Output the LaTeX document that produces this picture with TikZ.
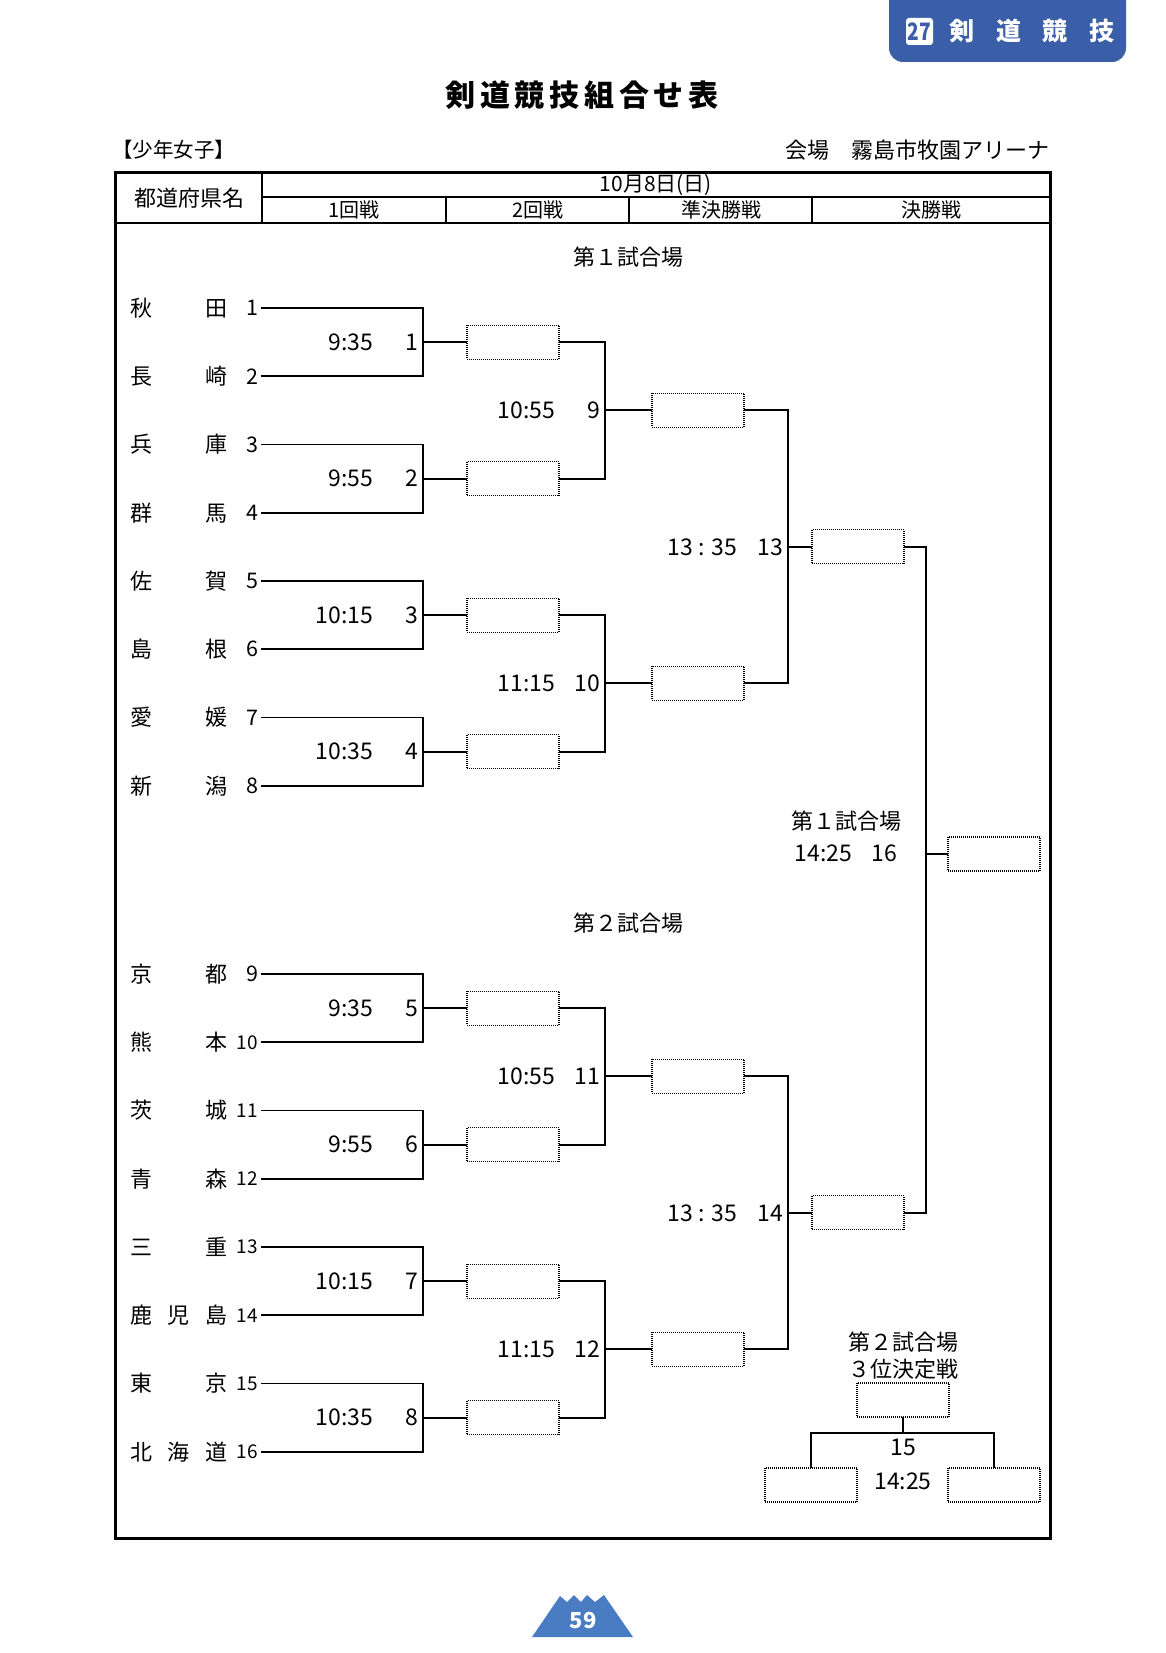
\documentclass[tikz,border=0pt]{standalone}
\usepackage{fontspec}
\setmainfont{Noto Sans CJK JP}
\usetikzlibrary{calc}
\definecolor{tabblue}{HTML}{3B5EA8}
\definecolor{pageblue}{HTML}{4A7CC4}
\begin{document}
\begin{tikzpicture}[x=1pt,y=-1pt,
  every node/.style={inner sep=0pt, outer sep=0pt},
  line/.style={line width=1.9pt},
  frameline/.style={line width=3pt},
  wbox/.style={draw, line width=1.2pt, dash pattern=on 1pt off 1pt, minimum width=92pt, minimum height=34pt},
  tname/.style={font=\fontsize{22}{24}\selectfont, anchor=west},
  tnum/.style={font=\fontsize{21.5}{23}\selectfont, anchor=east},
  tnumb/.style={font=\fontsize{19}{21}\selectfont, anchor=east},
  time/.style={font=\fontsize{23}{25}\selectfont, anchor=east},
  lbl/.style={font=\fontsize{22}{24}\selectfont},
  hdr/.style={font=\fontsize{20}{22}\selectfont},
]
\useasboundingbox (0,0) rectangle (1165,1653);
\fill[white] (0,0) rectangle (1165,1653);

% header tab
\fill[tabblue, rounded corners=14pt] (889,-30) rectangle (1126,62);
\node[fill=white, rounded corners=3pt, minimum width=27pt, minimum height=27pt,
      text=tabblue, font=\fontsize{24}{26}\selectfont\bfseries] (tabnum) at (919.5,31.5) {\scalebox{0.8}[1]{27}};
\node[text=white, font=\fontsize{25}{27}\selectfont\bfseries] (tabtxt) at (1032,31)
  {剣\hspace{21.7pt}道\hspace{21.7pt}競\hspace{21.7pt}技};

% title
\node[font=\fontsize{30}{32}\selectfont\bfseries] (title) at (582,95)
  {剣\hspace{4.7pt}道\hspace{4.7pt}競\hspace{4.7pt}技\hspace{4.7pt}組\hspace{4.7pt}合\hspace{4.7pt}せ\hspace{4.7pt}表};
\node[font=\fontsize{20.5}{22}\selectfont, anchor=west] (cat) at (112,150) {【少年女子】};
\node[font=\fontsize{22}{24}\selectfont, anchor=east] (venue) at (1049,150) {会場　霧島市牧園アリーナ};

% table frame
\draw[frameline] (115,173) rectangle (1050,1538);
\draw[line] (262,173) -- (262,223);
\draw[line] (115,223) -- (1050,223);
\draw[line] (262,197) -- (1050,197);
\foreach \xx in {446,629,812} \draw[line] (\xx,197) -- (\xx,223);
\node[lbl] (hpref) at (189,198) {都道府県名};
\node[font=\fontsize{21}{23}\selectfont] (hdate) at (656,185) {10月8日(日)};
\node[hdr] (hr1) at (354,210) {1回戦};
\node[hdr] (hr2) at (538,210) {2回戦};
\node[hdr] (hr3) at (721,210) {準決勝戦};
\node[hdr] (hr4) at (931,210) {決勝戦};

\node[lbl] (court1) at (628,257) {第１試合場};
\node[lbl] (court2) at (628,923) {第２試合場};

% column x coordinates
\coordinate (r1) at (423,0);
\coordinate (r2) at (605,0);
\coordinate (r3) at (788,0);
\coordinate (r4) at (926,0);

% teams
\foreach \i/\nm in {1/{秋\hfill 田},2/{長\hfill 崎},3/{兵\hfill 庫},4/{群\hfill 馬},
                    5/{佐\hfill 賀},6/{島\hfill 根},7/{愛\hfill 媛},8/{新\hfill 潟},
                    9/{京\hfill 都},10/{熊\hfill 本},11/{茨\hfill 城},12/{青\hfill 森},
                    13/{三\hfill 重},14/{鹿\hfill 児\hfill 島},15/{東\hfill 京},16/{北\hfill 海\hfill 道}}{
  \pgfmathsetmacro\ty{ifthenelse(\i<9, 308+(\i-1)*68.25, 974+(\i-9)*68.25)}
  \node[tname] (n\i) at (130,\ty) {\makebox[98pt]{\nm}};
  \ifnum\i<10
    \node[tnum] (k\i) at (258,\ty) {\i};
  \else
    \node[tnumb] (k\i) at (258,\ty) {\i};
  \fi
  \coordinate (t\i) at (261,\ty);
}

% round 1
\foreach \m/\tm in {1/9:35,2/9:55,3/10:15,4/10:35,5/9:35,6/9:55,7/10:15,8/10:35}{
  \pgfmathtruncatemacro\a{2*\m-1}
  \pgfmathtruncatemacro\b{2*\m}
  \pgfmathsetmacro\my{ifthenelse(\m<5, 342.125+(\m-1)*136.5, 1008.125+(\m-5)*136.5)}
  \node[wbox] (b\m) at (513,\my) {};
  \draw[line] (t\a) -- (t\a -| r1) |- (t\b);
  \draw[line] (b\m.west -| r1) -- (b\m.west);
  \node[time] (tm\m) at (373,\my) {\tm};
  \node[time] (mn\m) at (418,\my) {\m};
}

% round 2
\foreach \m/\tm/\a/\b in {9/10:55/1/2,10/11:15/3/4,11/10:55/5/6,12/11:15/7/8}{
  \path ($(b\a.east)!0.5!(b\b.east)$) coordinate (mid\m);
  \node[wbox] (c\m) at (698,0 |- mid\m) {};
  \draw[line] (b\a.east) -- (b\a.east -| r2) |- (b\b.east);
  \draw[line] (c\m.west -| r2) -- (c\m.west);
  \node[time] (tm\m) at (555,0 |- mid\m) {\tm};
  \node[time] (mn\m) at (600,0 |- mid\m) {\m};
}

% semifinals
\foreach \m/\a/\b in {13/9/10,14/11/12}{
  \path ($(c\a.east)!0.5!(c\b.east)$) coordinate (mid\m);
  \node[wbox] (s\m) at (858,0 |- mid\m) {};
  \draw[line] (c\a.east) -- (c\a.east -| r3) |- (c\b.east);
  \draw[line] (s\m.west -| r3) -- (s\m.west);
  \node[time] (tm\m) at (737,0 |- mid\m) {13 : 35};
  \node[time] (mn\m) at (783,0 |- mid\m) {\m};
}

% final
\node[wbox] (f16) at (994,854) {};
\draw[line] (s13.east) -- (s13.east -| r4) |- (s14.east);
\draw[line] (f16.west -| r4) -- (f16.west);
\node[lbl] (court1f) at (846,821) {第１試合場};
\node[time] (tm16) at (852,853) {14:25};
\node[time] (mn16) at (897,853) {16};

% third place
\node[lbl] (court2t) at (903,1342) {第２試合場};
\node[lbl] (third) at (903,1369) {３位決定戦};
\node[wbox] (p0) at (903,1400) {};
\node[wbox] (p1) at (811,1485) {};
\node[wbox] (p2) at (994,1485) {};
\coordinate (j) at (903,1433);
\draw[line] (p0.south) -- (j);
\draw[line] (p1.north) |- (j) -| (p2.north);
\node[time, anchor=center] (mn15) at (903,1447) {15};
\node[time, anchor=center] (tm15) at (903,1481) {14:25};

% page number
\fill[pageblue] (532,1637) -- (560,1596) -- (567,1602) -- (574,1595) -- (581,1602) -- (587,1595)
  -- (595,1602) -- (604,1595) -- (633,1637) -- cycle;
\node[text=white, font=\fontsize{22}{24}\selectfont\bfseries] (pageno) at (583,1620) {59};
\end{tikzpicture}
\end{document}
